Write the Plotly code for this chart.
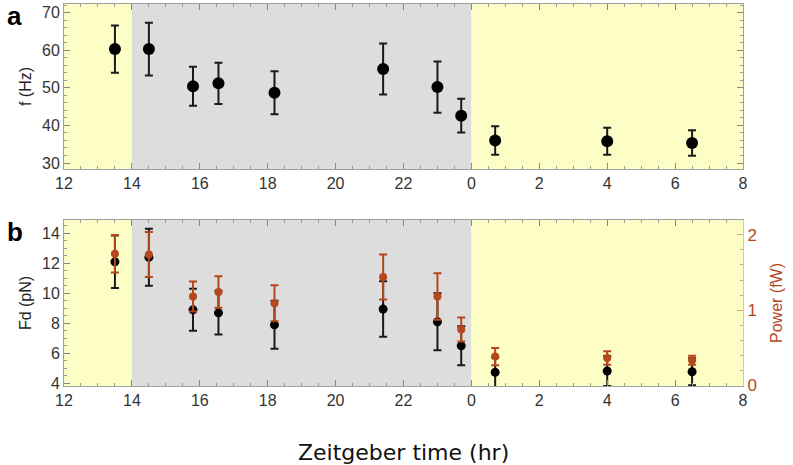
import plotly.graph_objects as go

# Zeitgeber time, continuous hours (values past 24 are the next day)
zt = [13.5, 14.5, 15.8, 16.55, 18.2, 21.4, 23.0, 23.7, 24.7, 28.0, 30.5]

# panel a: beat frequency
freq = [60.3, 60.3, 50.4, 51.2, 48.7, 55.0, 50.2, 42.6, 36.0, 35.8, 35.3]
freq_err = [6.3, 7.0, 5.2, 5.5, 5.7, 6.8, 6.8, 4.5, 3.8, 3.6, 3.4]

# panel b: drag force and power
fd = [12.1, 12.4, 8.9, 8.7, 7.9, 8.95, 8.1, 6.5, 4.73, 4.82, 4.77]
fd_err = [1.75, 1.9, 1.4, 1.45, 1.6, 1.85, 1.9, 1.3, 1.0, 1.0, 0.9]
power = [1.75, 1.74, 1.18, 1.24, 1.09, 1.44, 1.18, 0.74, 0.38, 0.36, 0.33]
power_err = [0.25, 0.3, 0.2, 0.21, 0.24, 0.3, 0.31, 0.16, 0.115, 0.09, 0.06]

tick_vals = [12, 14, 16, 18, 20, 22, 24, 26, 28, 30, 32]
tick_text = ["12", "14", "16", "18", "20", "22", "0", "2", "4", "6", "8"]

ORANGE = "#b5471d"
YELLOW = "#fdfdc6"
GRAY = "#dddddd"
AXIS = "#a0a0a0"
FONT = "Liberation Sans, Arial, sans-serif"

fig = go.Figure()

fig.add_trace(go.Scatter(
    x=zt, y=freq, mode="markers",
    marker=dict(color="black", size=12),
    error_y=dict(type="data", array=freq_err, color="#1a1a1a", thickness=2, width=4),
    xaxis="x", yaxis="y", showlegend=False))

fig.add_trace(go.Scatter(
    x=zt, y=fd, mode="markers",
    marker=dict(color="black", size=9),
    error_y=dict(type="data", array=fd_err, color="#1a1a1a", thickness=2, width=4),
    xaxis="x2", yaxis="y2", showlegend=False))

fig.add_trace(go.Scatter(
    x=zt, y=power, mode="markers",
    marker=dict(color=ORANGE, size=8),
    error_y=dict(type="data", array=power_err, color=ORANGE, thickness=2, width=4),
    xaxis="x2", yaxis="y3", showlegend=False))

shapes = []
for xr, yr in [("x", "y domain"), ("x2", "y2 domain")]:
    for x0, x1, c in [(12, 14, YELLOW), (14, 24, GRAY), (24, 32, YELLOW)]:
        shapes.append(dict(type="rect", xref=xr, yref=yr, x0=x0, x1=x1, y0=0, y1=1,
                           fillcolor=c, line_width=0, layer="below"))

tickfont = dict(size=16, color="#333", family=FONT)
xcommon = dict(range=[12, 32], tickvals=tick_vals, ticktext=tick_text,
               ticks="inside", ticklen=6, tickcolor="#888", showline=True,
               linecolor=AXIS, linewidth=1, mirror="ticks", showgrid=False,
               zeroline=False, tickfont=tickfont, automargin=False,
               minor=dict(dtick=0.5, ticks="inside", ticklen=3, tickcolor="#999"))

fig.update_layout(
    width=793, height=465,
    margin=dict(l=64, r=50, t=4, b=79),
    paper_bgcolor="white", plot_bgcolor="white",
    font=dict(family=FONT, color="#333"),
    shapes=shapes,
    xaxis=dict(domain=[0, 1], anchor="y", **xcommon),
    yaxis=dict(domain=[0.568, 1], anchor="x", range=[28.4, 72.3],
               tickvals=[30, 40, 50, 60, 70], ticks="inside", ticklen=6,
               tickcolor="#888", showline=True, linecolor=AXIS, mirror="ticks",
               showgrid=False, zeroline=False, tickfont=tickfont, automargin=False,
               minor=dict(dtick=2, ticks="inside", ticklen=3, tickcolor="#999"),
               title=dict(text="f (Hz)", font=dict(size=16, color="#222"), standoff=6)),
    xaxis2=dict(domain=[0, 1], anchor="y2", **xcommon),
    yaxis2=dict(domain=[0, 0.4346], anchor="x2", range=[3.82, 14.89],
                tickvals=[4, 6, 8, 10, 12, 14], ticks="inside", ticklen=6,
                tickcolor="#888", showline=True, linecolor=AXIS,
                showgrid=False, zeroline=False, tickfont=tickfont, automargin=False,
                minor=dict(dtick=0.5, ticks="inside", ticklen=3, tickcolor="#999"),
                title=dict(text="Fd (pN)", font=dict(size=16, color="#222"), standoff=6)),
    yaxis3=dict(overlaying="y2", anchor="x2", side="right", range=[-0.013, 2.2],
                tickvals=[0, 1, 2], ticks="inside", ticklen=6,
                tickcolor="#c8a878", showline=True, linecolor="#e2c98e",
                showgrid=False, zeroline=False, automargin=False,
                tickfont=dict(size=17, color=ORANGE, family=FONT),
                minor=dict(dtick=0.2, ticks="inside", ticklen=3, tickcolor="#c8a878"),
                title=dict(text="Power (fW)", font=dict(size=16, color=ORANGE), standoff=14)),
    annotations=[
        dict(text="Zeitgeber time (hr)", xref="paper", yref="paper", x=0.5, y=-0.135,
             xanchor="center", yanchor="top", showarrow=False,
             font=dict(size=22, color="#111", family="DejaVu Sans")),
        dict(text="<b>a</b>", xref="paper", yref="paper", x=-0.087, y=1.012,
             xanchor="left", yanchor="top", showarrow=False,
             font=dict(size=26, color="black", family=FONT)),
        dict(text="<b>b</b>", xref="paper", yref="paper", x=-0.087, y=0.4346 + 0.012,
             xanchor="left", yanchor="top", showarrow=False,
             font=dict(size=26, color="black", family=FONT)),
    ],
)

# page body has an 8px default margin; drop it so the figure sits at the corner
fig.write_html("out.html", config={"displayModeBar": False},
               post_script="document.body.style.margin='0';")
